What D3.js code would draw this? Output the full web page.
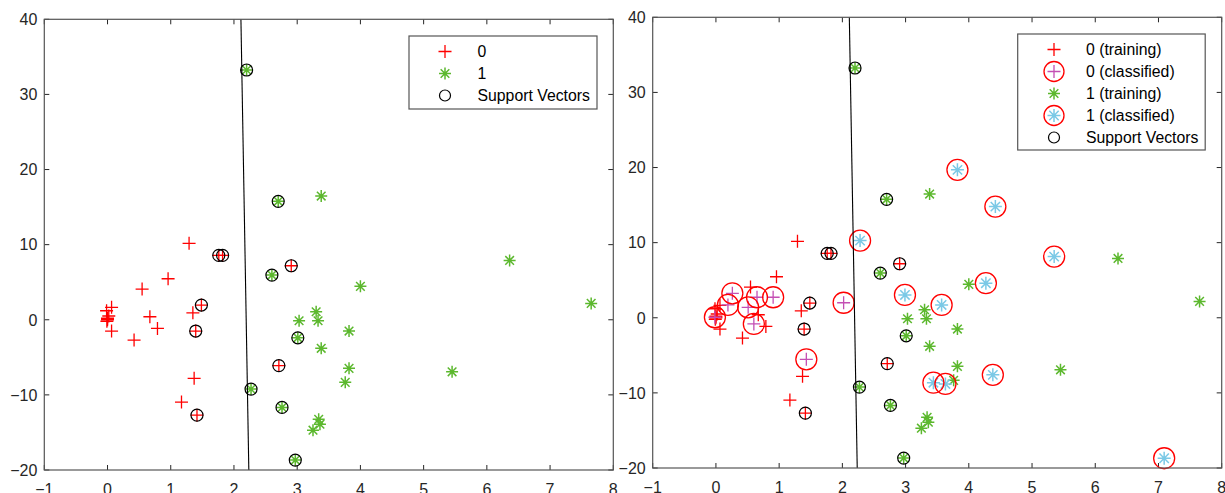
<!DOCTYPE html>
<html>
<head>
<meta charset="utf-8">
<script src="https://cdn.jsdelivr.net/npm/d3@7"></script>
<style>
  body { margin: 0; background: #fff; }
  svg { display: block; font-family: "Liberation Sans", Arial, Helvetica, sans-serif; }
</style>
</head>
<body>
<svg width="1225" height="493"></svg>
<script>
// training data, class 0
var class0Train = [[-0.015,1.2],[0.064,1.65],[0.0,0.2],[0.02,0.5],[-0.01,-0.2],[0.0,0.0],
  [0.064,-1.5],[0.42,-2.7],[0.547,4.09],[0.67,0.4],[0.79,-1.15],[0.958,5.46],[1.29,10.17],
  [1.35,0.93],[1.37,-7.8],[1.17,-10.96],[1.485,1.96],[1.395,-1.5],[1.415,-12.7],
  [1.76,8.57],[1.82,8.57],[2.906,7.19],[2.71,-6.1]];
// training data, class 1
var class1Train = [[2.2,33.25],[2.70,15.77],[2.60,5.95],[3.01,-2.4],[2.27,-9.23],[2.76,-11.67],
  [2.97,-18.68],[3.38,16.47],[6.36,7.9],[4.0,4.45],[7.65,2.18],[3.30,1.07],[3.33,-0.13],
  [3.03,-0.13],[3.82,-1.5],[3.38,-3.8],[3.82,-6.47],[3.76,-8.33],[5.45,-6.93],
  [3.34,-13.26],[3.36,-13.9],[3.25,-14.7]];
var supportVectors = [[1.485,1.96],[1.395,-1.5],[1.415,-12.7],[1.76,8.57],[1.82,8.57],
  [2.906,7.19],[2.71,-6.1],[2.2,33.25],[2.70,15.77],[2.60,5.95],[3.01,-2.4],[2.27,-9.23],
  [2.76,-11.67],[2.97,-18.68]];
// new points after classification
var class0Classified = [[-0.016,0.07],[0.19,1.71],[0.26,3.26],[0.51,1.39],[0.65,2.73],
  [0.905,2.73],[0.60,-0.82],[1.43,-5.53],[2.02,2.0]];
var class1Classified = [[2.28,10.27],[2.99,3.04],[3.82,19.69],[4.42,14.8],[5.35,8.14],
  [4.27,4.6],[3.57,1.71],[3.44,-8.64],[3.63,-8.81],[4.38,-7.6],[7.09,-18.7]];
var boundary = [[2.11,40],[2.235,-20]];
var xTicks = [-1,0,1,2,3,4,5,6,7,8];
var yTicks = [-20,-10,0,10,20,30,40];
var legendLeft = ["0","1","Support Vectors"];
var legendRight = ["0 (training)","0 (classified)","1 (training)","1 (classified)","Support Vectors"];

var RED = "#ff0000", GREEN = "#5cb82e", MAG = "#c44fb4", CYAN = "#7bc9e6", AX = "#262626";

var svg = d3.select("svg");

function plus(g, cx, cy, s, col) {
  g.append("path").attr("d", "M" + (cx - s) + "," + cy + "H" + (cx + s) + "M" + cx + "," + (cy - s) + "V" + (cy + s))
    .attr("stroke", col).attr("stroke-width", 1.3).attr("fill", "none");
}
function star(g, cx, cy, s, col) {
  var d = s * 0.72;
  g.append("path").attr("d", "M" + (cx - s) + "," + cy + "H" + (cx + s) + "M" + cx + "," + (cy - s) + "V" + (cy + s) +
      "M" + (cx - d) + "," + (cy - d) + "L" + (cx + d) + "," + (cy + d) +
      "M" + (cx - d) + "," + (cy + d) + "L" + (cx + d) + "," + (cy - d))
    .attr("stroke", col).attr("stroke-width", 1.5).attr("fill", "none");
}
function ring(g, cx, cy, r, col, w) {
  g.append("circle").attr("cx", cx).attr("cy", cy).attr("r", r)
    .attr("stroke", col).attr("stroke-width", w).attr("fill", "none");
}

function drawPanel(p) {
  var x = d3.scaleLinear().domain([-1, 8]).range([p.left, p.right]);
  var y = d3.scaleLinear().domain([-20, 40]).range([p.bottom, p.top]);
  var g = svg.append("g");

  // tick labels
  g.selectAll(".yl").data(yTicks).enter().append("text")
    .attr("x", p.left - 7).attr("y", function(d) { return y(d); })
    .attr("dy", "0.36em").attr("text-anchor", "end")
    .attr("font-size", 16).attr("fill", AX)
    .text(function(d) { return d3.format("d")(d); });
  g.selectAll(".xl").data(xTicks).enter().append("text")
    .attr("x", function(d) { return x(d); }).attr("y", p.bottom + 25)
    .attr("text-anchor", "middle").attr("font-size", 16).attr("fill", AX)
    .text(function(d) { return d3.format("d")(d); });

  // inward ticks on all four sides
  var tl = 5, tk = g.append("g").attr("stroke", AX).attr("stroke-width", 1);
  xTicks.forEach(function(t) {
    tk.append("line").attr("x1", x(t)).attr("x2", x(t)).attr("y1", p.bottom).attr("y2", p.bottom - tl);
    tk.append("line").attr("x1", x(t)).attr("x2", x(t)).attr("y1", p.top).attr("y2", p.top + tl);
  });
  yTicks.forEach(function(t) {
    tk.append("line").attr("y1", y(t)).attr("y2", y(t)).attr("x1", p.left).attr("x2", p.left + tl);
    tk.append("line").attr("y1", y(t)).attr("y2", y(t)).attr("x1", p.right).attr("x2", p.right - tl);
  });

  var m = g.append("g");
  class0Train.forEach(function(d) { plus(m, x(d[0]), y(d[1]), 6.5, RED); });
  if (p.classified) class0Classified.forEach(function(d) { plus(m, x(d[0]), y(d[1]), 6.5, MAG); });
  class1Train.forEach(function(d) { star(m, x(d[0]), y(d[1]), 6, GREEN); });
  if (p.classified) {
    class1Classified.forEach(function(d) { star(m, x(d[0]), y(d[1]), 6.5, CYAN); });
    class0Classified.concat(class1Classified).forEach(function(d) { ring(m, x(d[0]), y(d[1]), 10.5, RED, 1.3); });
  }
  supportVectors.forEach(function(d) { ring(m, x(d[0]), y(d[1]), 6, "#000", 1.2); });

  // decision boundary
  g.append("path").datum(boundary)
    .attr("d", d3.line().x(function(d) { return x(d[0]); }).y(function(d) { return y(d[1]); }))
    .attr("stroke", "#000").attr("stroke-width", 1.1).attr("fill", "none");

  // box
  g.append("rect").attr("x", p.left).attr("y", p.top)
    .attr("width", p.right - p.left).attr("height", p.bottom - p.top)
    .attr("fill", "none").attr("stroke", "#555").attr("stroke-width", 1.2);

  // legend
  var L = p.legend;
  var lg = svg.append("g");
  lg.append("rect").attr("x", L.x).attr("y", L.y).attr("width", L.w).attr("height", L.h)
    .attr("fill", "#fff").attr("stroke", "#555").attr("stroke-width", 1.2);
  L.labels.forEach(function(lab, i) {
    var cy = L.y + 15.5 + i * 22, cx = L.mx;
    var kind = L.kinds[i];
    if (kind == "p") plus(lg, cx, cy, 6.5, RED);
    if (kind == "pc") { plus(lg, cx, cy, 6.5, MAG); ring(lg, cx, cy, 10, RED, 1.3); }
    if (kind == "s") star(lg, cx, cy, 6, GREEN);
    if (kind == "sc") { star(lg, cx, cy, 6.5, CYAN); ring(lg, cx, cy, 10, RED, 1.3); }
    if (kind == "o") ring(lg, cx, cy, 5.5, "#000", 1.2);
    lg.append("text").attr("x", L.tx).attr("y", cy).attr("dy", "0.36em")
      .attr("font-size", 15.8).attr("fill", "#000").text(lab);
  });
}

drawPanel({ left: 44.3, right: 613.3, top: 19.3, bottom: 470, classified: false,
  legend: { x: 409, y: 36, w: 188, h: 73, mx: 445, tx: 477.5, labels: legendLeft, kinds: ["p","s","o"] } });
drawPanel({ left: 652.7, right: 1221.7, top: 17.3, bottom: 468, classified: true,
  legend: { x: 1017.7, y: 34, w: 187.5, h: 116, mx: 1054, tx: 1086, labels: legendRight, kinds: ["p","pc","s","sc","o"] } });
</script>
</body>
</html>
